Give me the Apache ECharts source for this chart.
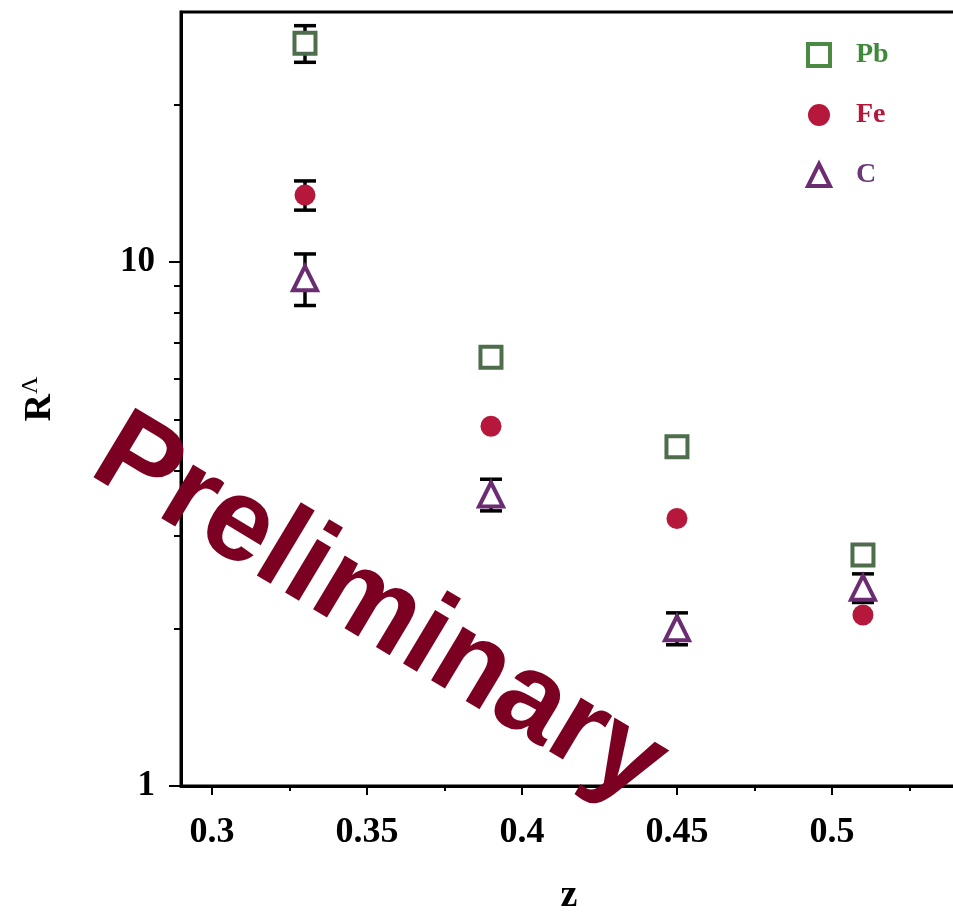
<!DOCTYPE html>
<html>
<head>
<meta charset="utf-8">
<script src="https://cdn.jsdelivr.net/npm/echarts@6/dist/echarts.min.js"></script>
<style>html,body{margin:0;padding:0;background:#fff}#c{width:953px;height:913px}</style>
</head>
<body>
<div id="c"></div>
<script>
// ---- data ----
var zValues = [0.33, 0.39, 0.45, 0.51];
var pbValues = [26.15, 6.58, 4.44, 2.76];
var pbErrors = [2.1, 0.26, 0, 0];
var feValues = [13.42, 4.86, 3.24, 2.12];
var feErrors = [0.86, 0, 0, 0];
var cValues = [9.31, 3.60, 2.00, 2.39];
var cErrors = [1.05, 0.25, 0.14, 0.15];
var xMajorTicks = [0.3, 0.35, 0.4, 0.45, 0.5];
var xMinorTicks = [0.325, 0.375, 0.425, 0.475, 0.525];
var yMajorTicks = [1, 10];
var yMinorTicks = [2, 3, 4, 5, 6, 7, 8, 9, 20];
var seriesNames = ['Pb', 'Fe', 'C'];

var GREEN = '#4e6d4b', RED = '#b5183a', PURPLE = '#6b2c72';
var SERIF = '"Liberation Serif","DejaVu Serif",serif';

function pairs(vals) { return zValues.map(function (z, i) { return [z, vals[i]]; }); }
function errPairs(vals, errs) {
  var out = [];
  zValues.forEach(function (z, i) { if (errs[i] > 0) out.push([z, vals[i] - errs[i], vals[i] + errs[i]]); });
  return out;
}
var errData = errPairs(pbValues, pbErrors).concat(errPairs(feValues, feErrors)).concat(errPairs(cValues, cErrors));

var chart = echarts.init(document.getElementById('c'), null, {renderer: 'canvas'});
var xMin = 0.29, xMax = 0.5455;
var common = {min: xMin, max: xMax, type: 'value', splitLine: {show: false}};
chart.setOption({
  animation: false,
  backgroundColor: '#fff',
  grid: {left: 181, top: 12, bottom: 127, right: -20, outerBoundsMode: 'none', containLabel: false,
    show: true, borderColor: '#000', borderWidth: 3, backgroundColor: 'transparent'},
  xAxis: [
    Object.assign({}, common, {
      position: 'bottom',
      axisLine: {show: true, lineStyle: {color: '#000', width: 3}},
      axisTick: {show: true, length: 9, lineStyle: {color: '#000', width: 2}, customValues: xMajorTicks},
      axisLabel: {customValues: xMajorTicks, margin: 29, color: '#000', fontFamily: SERIF, fontWeight: 'bold', fontSize: 36,
        formatter: function (v) { return String(+v.toFixed(3)); }},
      name: 'z', nameLocation: 'middle', nameGap: 110,
      nameTextStyle: {fontFamily: SERIF, fontWeight: 'bold', fontSize: 38, color: '#000', verticalAlign: 'middle', padding: [0, 16, 0, 0]}
    }),
    Object.assign({}, common, {
      position: 'bottom',
      axisLine: {show: false},
      axisTick: {show: true, length: 5, lineStyle: {color: '#000', width: 2}, customValues: xMinorTicks},
      axisLabel: {show: false}
    })
  ],
  yAxis: [
    {
      type: 'log', logBase: 10, min: 1, max: 30, position: 'left',
      splitLine: {show: false},
      axisLine: {show: true, lineStyle: {color: '#000', width: 3}},
      axisTick: {show: true, length: 12, lineStyle: {color: '#000', width: 2}, customValues: yMajorTicks},
      axisLabel: {customValues: yMajorTicks, margin: 26, color: '#000', fontFamily: SERIF, fontWeight: 'bold', fontSize: 35},
      name: '{r|R}{s|Λ}', nameLocation: 'middle', nameGap: 120, nameRotate: 90,
      nameTextStyle: {rich: {
        r: {fontFamily: SERIF, fontWeight: 'bold', fontSize: 38, color: '#000', lineHeight: 42},
        s: {fontFamily: SERIF, fontSize: 24, color: '#000', verticalAlign: 'top', lineHeight: 42, padding: [0, 0, 14, 0]}
      }}
    },
    {
      type: 'log', logBase: 10, min: 1, max: 30, position: 'left',
      splitLine: {show: false},
      axisLine: {show: false},
      axisTick: {show: true, length: 7, lineStyle: {color: '#000', width: 2}, customValues: yMinorTicks},
      axisLabel: {show: false}
    }
  ],
  legend: {
    orient: 'vertical', left: 801, top: 36, itemWidth: 22, itemHeight: 22, itemGap: 32,
    textStyle: {fontFamily: SERIF, fontWeight: 'bold', fontSize: 28, padding: [0, 0, 0, 21]},
    data: [
      {name: 'Pb', icon: 'rect', itemStyle: {color: '#fff', borderColor: '#4a8a43', borderWidth: 4}, textStyle: {color: '#3f8a3a'}},
      {name: 'Fe', icon: 'circle', itemStyle: {color: RED}, textStyle: {color: RED}},
      {name: 'C', icon: 'triangle', itemStyle: {color: '#fff', borderColor: PURPLE, borderWidth: 4}, textStyle: {color: '#6a3a78'}}
    ]
  },
  series: [
    {
      type: 'custom', name: 'errors', xAxisIndex: 0, yAxisIndex: 0, z: 1, silent: true,
      data: errData,
      renderItem: function (params, api) {
        var x = api.value(0);
        var lo = api.coord([x, api.value(1)]);
        var hi = api.coord([x, api.value(2)]);
        var hw = 11;
        var st = {stroke: '#000', lineWidth: 3.5};
        return {type: 'group', children: [
          {type: 'line', shape: {x1: lo[0], y1: lo[1], x2: hi[0], y2: hi[1]}, style: st},
          {type: 'line', shape: {x1: lo[0] - hw, y1: lo[1], x2: lo[0] + hw, y2: lo[1]}, style: st},
          {type: 'line', shape: {x1: hi[0] - hw, y1: hi[1], x2: hi[0] + hw, y2: hi[1]}, style: st}
        ]};
      }
    },
    {type: 'scatter', name: 'Pb', data: pairs(pbValues), symbol: 'rect', symbolSize: 21, z: 3,
      itemStyle: {color: '#fff', borderColor: GREEN, borderWidth: 4, opacity: 1}},
    {type: 'scatter', name: 'Fe', data: pairs(feValues), symbol: 'circle', symbolSize: 21, z: 3,
      itemStyle: {color: RED, opacity: 1}},
    {type: 'scatter', name: 'C', data: pairs(cValues), symbol: 'triangle', symbolSize: [24, 24], z: 3,
      itemStyle: {color: '#fff', borderColor: PURPLE, borderWidth: 4, opacity: 1}}
  ],
  graphic: [
    {type: 'text', x: 379, y: 611, rotation: -31 * Math.PI / 180, z: 100,
      style: {text: 'Preliminary', fill: '#7b0021', font: 'bold 118px "Liberation Sans", Arial, sans-serif', align: 'center', verticalAlign: 'middle'}}
  ]
});
</script>
</body>
</html>
